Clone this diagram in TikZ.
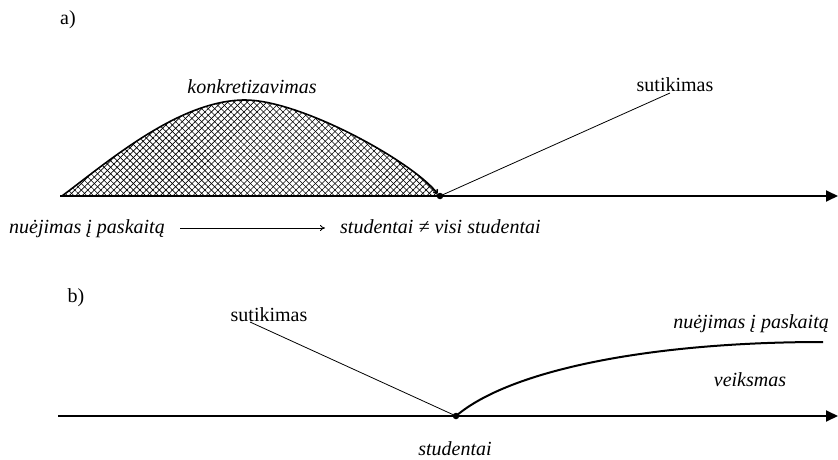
\documentclass[tikz,border=0pt]{standalone}
\usepackage{fontspec}
\setmainfont{Liberation Serif}
\usetikzlibrary{arrows.meta,patterns.meta}
\begin{document}
\begin{tikzpicture}[x=1pt,y=-1pt,
  txt/.style={inner sep=0pt,font=\fontsize{20}{23}\selectfont},
  itxt/.style={txt,font=\fontsize{20}{23}\selectfont\itshape},
  axis/.style={line width=1.8pt,-{Triangle[length=12pt,width=11pt]}},
  thinline/.style={line width=0.8pt},
  dotstyle/.style={circle,fill=black,inner sep=0pt,minimum size=6.5pt}]
\useasboundingbox (0,0) rectangle (838,460);

% ---------- panel a ----------
\node[txt] (la) at (68,20) {a)};
\coordinate (a0) at (60,196);
\coordinate (a1) at (838,196);
\coordinate (hs) at (62,196);
\coordinate (hp) at (245,100);
\node[dotstyle] (da) at (440,196) {};
% hatched hump
\fill[pattern={Lines[angle=45,distance=4.6pt,line width=0.6pt]}]
  (hs) .. controls (110,160) and (180,100) .. (hp)
  .. controls (300,100) and (410,160) .. (da.center) -- cycle;
\fill[pattern={Lines[angle=-45,distance=4.6pt,line width=0.6pt]}]
  (hs) .. controls (110,160) and (180,100) .. (hp)
  .. controls (300,100) and (410,160) .. (da.center) -- cycle;
\draw[line width=1.6pt] (hs) .. controls (110,160) and (180,100) .. (hp);
\draw[line width=1.6pt,-{To[length=4pt,width=6pt]}] (hp) .. controls (300,100) and (410,160) .. (da.north west);
\draw[axis] (a0) -- (a1);
\node[itxt] (konk) at (252,87) {konkretizavimas};
\node[txt] (suta) at (675,85) {sutikimas};
\coordinate (sutaend) at (670,93);
\draw[thinline] (da.center) -- (sutaend);
\node[itxt,anchor=base west] (nuea) at (9,233) {nuėjimas į paskaitą};
\node[itxt,anchor=base west] (stud) at (340,233) {studentai ≠ visi studentai};
\coordinate (arrs) at (180,228);
\coordinate (arre) at (325,228);
\draw[line width=0.8pt,-{To[length=5pt,width=6pt]}] (arrs) -- (arre);

% ---------- panel b ----------
\node[txt] (lb) at (76,298) {b)};
\coordinate (b0) at (58,416);
\coordinate (b1) at (838,416);
\node[dotstyle] (db) at (456,416) {};
\draw[axis] (b0) -- (b1);
\node[txt] (sutb) at (269,315) {sutikimas};
\coordinate (sutbend) at (250,322);
\draw[thinline] (db.center) -- (sutbend);
\coordinate (cend) at (823,342);
\draw[line width=2pt] (db.center) .. controls (510,370) and (650,342) .. (cend);
\node[itxt,anchor=base east] (nueb) at (829,328) {nuėjimas į paskaitą};
\node[itxt] (veik) at (750,380) {veiksmas};
\node[itxt] (studb) at (455,449) {studentai};
\end{tikzpicture}
\end{document}
